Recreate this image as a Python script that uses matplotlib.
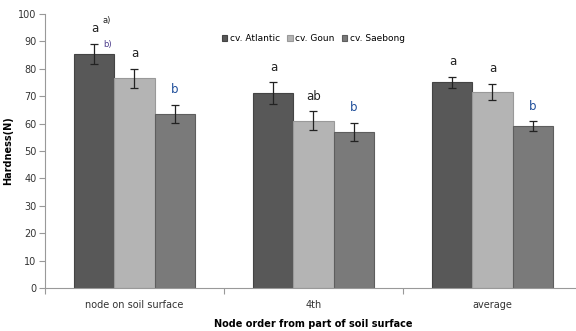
import matplotlib
matplotlib.use("Agg")
import matplotlib.pyplot as plt
import numpy as np

categories = ["node on soil surface", "4th", "average"]
series = ["cv. Atlantic", "cv. Goun", "cv. Saebong"]
atlantic = [85.5, 71.0, 75.0]
goun = [76.5, 61.0, 71.5]
saebong = [63.5, 57.0, 59.0]
atlantic_err = [3.7, 4.0, 2.0]
goun_err = [3.6, 3.5, 3.0]
saebong_err = [3.4, 3.3, 1.8]
letters = [["a", "a", "b"], ["a", "ab", "b"], ["a", "a", "b"]]

colors = ["#585858", "#b4b4b4", "#7a7a7a"]
edge = ["#444444", "#999999", "#5e5e5e"]

plt.rcParams['font.family'] = ['DejaVu Sans']
fig = plt.figure(figsize=(5.76, 3.31), dpi=100)
ax = fig.add_axes([45/576, 43/331, 537/576, 274/331])

x = np.arange(len(categories))
w = 0.224
vals = [atlantic, goun, saebong]
errs = [atlantic_err, goun_err, saebong_err]
for i, (v, e) in enumerate(zip(vals, errs)):
    pos = x + (i - 1) * w
    ax.bar(pos, v, w, color=colors[i], edgecolor=edge[i], linewidth=0.8, label=series[i], zorder=2)
    ax.errorbar(pos, v, yerr=e, fmt="none", ecolor="#222222", elinewidth=0.9, capsize=3, capthick=0.9, zorder=3)
    for j in range(len(categories)):
        lab = letters[j][i]
        col = "#1f4e9a" if lab == "b" else "#222222"
        ax.text(pos[j], v[j] + e[j] + 5.5, lab, ha="center", va="center", fontsize=8.5, color=col)

# superscript notes
ax.text(x[0] - w + 0.045, 97.5, "a)", fontsize=6, color="#222222", ha="left", va="center")
ax.text(x[0] - w + 0.05, 89.0, "b)", fontsize=6, color="#4a3a8a", ha="left", va="center")

ax.set_xlim(-0.5, 2.5)
ax.set_ylim(0, 100)
ax.set_yticks(np.arange(0, 101, 10))
ax.tick_params(axis="y", labelsize=7, colors="#333333", length=4, width=0.8, direction="out", pad=2)
ax.tick_params(axis="y", color="#999999")
ax.set_xticks(x)
ax.set_xticklabels(categories, fontsize=7, color="#333333")
ax.tick_params(axis="x", length=0, pad=9)
ax.set_xticks([-0.5, 0.5, 1.5, 2.5], minor=True)
ax.tick_params(axis="x", which="minor", length=4, color="#999999", width=0.8)
for s in ["top", "right"]:
    ax.spines[s].set_visible(False)
for s in ["left", "bottom"]:
    ax.spines[s].set_color("#999999")
    ax.spines[s].set_linewidth(0.8)

ax.set_ylabel("Hardness(N)", fontsize=7, fontweight="bold", labelpad=4)
ax.set_xlabel("Node order from part of soil surface", fontsize=7, fontweight="bold", labelpad=6)

ax.legend(loc="upper center", bbox_to_anchor=(0.5, 0.955), ncol=3, frameon=False, fontsize=6.5,
          handlelength=0.6, handleheight=0.6, handletextpad=0.3, columnspacing=0.8)

fig.savefig("out.png", dpi=100)
